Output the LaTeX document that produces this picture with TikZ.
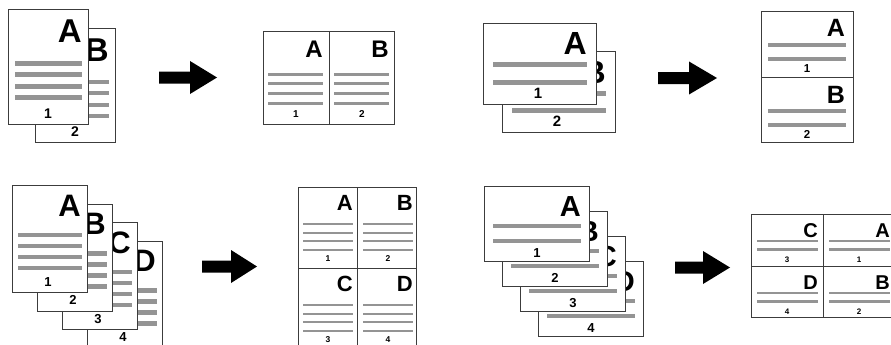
\documentclass[tikz,border=0pt]{standalone}
\usepackage{fontspec}
\newfontfamily\lsans{Liberation Sans}
\usetikzlibrary{calc}
\definecolor{framegray}{RGB}{60,60,60}
\definecolor{bargray}{RGB}{148,148,148}

\begin{document}
\begin{tikzpicture}[
  x=1pt, y=-1pt,
  sheet/.style={draw=framegray, line width=0.9pt, fill=white, anchor=north west, inner sep=0pt},
  divider/.style={draw=framegray, line width=0.9pt},
  bar/.style={draw=bargray, line width=#1},
  bigl/.style={font=\lsans\bfseries\fontsize{#1}{#1}\selectfont, inner sep=0pt, anchor=base east},
  num/.style={font=\lsans\bfseries\fontsize{#1}{#1}\selectfont, inner sep=0pt, anchor=base},
  arrowfill/.style={fill=black}
]
  \useasboundingbox (0,0) rectangle (891,345);
  \clip (0,0) rectangle (891,345);

  % two portrait sheets
  \foreach \n/\x/\y/\l in {2/35/28/B, 1/8/9.5/A}{
    \node[sheet, minimum width=80, minimum height=114] (a\n) at (\x,\y) {};
    \node[bigl=33] (la\n) at ($(a\n.north west)+(74,33.5)$) {\l};
    \foreach \b in {54,65,77,88}
      \draw[bar=4.5pt] ($(a\n.north west)+(7,\b)$) -- ++(67,0);
    \node[num=14] (na\n) at ($(a\n.north west)+(40,108.5)$) {\n};
  }

  % 2-up, side by side
  \node[sheet, minimum width=131, minimum height=93] (t1) at (263,31) {};
  \draw[divider] (t1.north) -- (t1.south);
  \foreach \c/\dx/\l in {1/0/A, 2/66/B}{
    \node[bigl=24] (lt1\c) at ($(t1.north west)+(\dx+60,26)$) {\l};
    \foreach \b in {43,52,62,72}
      \draw[bar=3pt] ($(t1.north west)+(\dx+5,\b)$) -- ++(55,0);
    \node[num=10] (nt1\c) at ($(t1.north west)+(\dx+33,86)$) {\c};
  }

  % two landscape sheets
  \foreach \n/\x/\y/\l in {2/502/51/B, 1/483/23/A}{
    \node[sheet, minimum width=113, minimum height=81] (b\n) at (\x,\y) {};
    \node[bigl=32] (lb\n) at ($(b\n.north west)+(104,32)$) {\l};
    \foreach \b in {42,59}
      \draw[bar=5pt] ($(b\n.north west)+(10,\b)$) -- ++(94,0);
    \node[num=15] (nb\n) at ($(b\n.north west)+(55,75)$) {\n};
  }

  % 2-up, stacked
  \node[sheet, minimum width=92, minimum height=131] (t2) at (761,11) {};
  \draw[divider] (t2.west) -- (t2.east);
  \foreach \c/\dy/\l in {1/0/A, 2/66/B}{
    \node[bigl=25] (lt2\c) at ($(t2.north west)+(84,\dy+26)$) {\l};
    \foreach \b in {34,48}
      \draw[bar=3.5pt] ($(t2.north west)+(7,\dy+\b)$) -- ++(78,0);
    \node[num=11.5] (nt2\c) at ($(t2.north west)+(46,\dy+61.5)$) {\c};
  }

  % four portrait sheets
  \foreach \n/\x/\y/\l in {4/87/240.5/D, 3/62/222/C, 2/37/203.5/B, 1/12/185/A}{
    \node[sheet, minimum width=75, minimum height=107] (c\n) at (\x,\y) {};
    \node[bigl=31] (lc\n) at ($(c\n.north west)+(69,31)$) {\l};
    \foreach \b in {50,61,72,83}
      \draw[bar=4.5pt] ($(c\n.north west)+(6,\b)$) -- ++(64,0);
    \node[num=13] (nc\n) at ($(c\n.north west)+(36,101)$) {\n};
  }

  % 4-up, portrait
  \node[sheet, minimum width=118, minimum height=162] (t3) at (298,187) {};
  \draw[divider] (t3.north) -- (t3.south);
  \draw[divider] (t3.west) -- (t3.east);
  \foreach \c/\dx/\dy/\l in {1/0/0/A, 2/60/0/B, 3/0/81/C, 4/60/81/D}{
    \node[bigl=22] (lt3\c) at ($(t3.north west)+(\dx+55,\dy+23.5)$) {\l};
    \foreach \b in {37,46,54,63}
      \draw[bar=2.5pt] ($(t3.north west)+(\dx+5,\dy+\b)$) -- ++(50,0);
    \node[num=8.5] (nt3\c) at ($(t3.north west)+(\dx+30,\dy+74)$) {\c};
  }

  % four landscape sheets
  \foreach \n/\x/\y/\l in {4/538/261/D, 3/520/236/C, 2/502/211/B, 1/484/186/A}{
    \node[sheet, minimum width=105, minimum height=75] (d\n) at (\x,\y) {};
    \node[bigl=29] (ld\n) at ($(d\n.north west)+(97,30)$) {\l};
    \foreach \b in {40,55}
      \draw[bar=4.5pt] ($(d\n.north west)+(9,\b)$) -- ++(88,0);
    \node[num=13] (nd\n) at ($(d\n.north west)+(53,71)$) {\n};
  }

  % 4-up, landscape
  \node[sheet, minimum width=144, minimum height=103] (t4) at (751,214) {};
  \draw[divider] (t4.north) -- (t4.south);
  \draw[divider] (t4.west) -- (t4.east);
  \foreach \c/\dx/\dy/\l in {3/0/0/C, 1/72/0/A, 4/0/52/D, 2/72/52/B}{
    \node[bigl=20] (lt4\c) at ($(t4.north west)+(\dx+67,\dy+23.5)$) {\l};
    \foreach \b in {27,35.5}
      \draw[bar=2.5pt] ($(t4.north west)+(\dx+6,\dy+\b)$) -- ++(61,0);
    \node[num=8] (nt4\c) at ($(t4.north west)+(\dx+36,\dy+48.5)$) {\c};
  }

  % arrows
  \foreach \xa/\xb/\xc/\yc in {159/190/217/77.5, 658/689/717/78, 202/231/257/266.5, 675/703/730/267.5}
    \fill[arrowfill] (\xa,\yc-6) -- (\xb,\yc-6) -- (\xb,\yc-16.5) -- (\xc,\yc)
      -- (\xb,\yc+16.5) -- (\xb,\yc+6) -- (\xa,\yc+6) -- cycle;
\end{tikzpicture}
\end{document}
